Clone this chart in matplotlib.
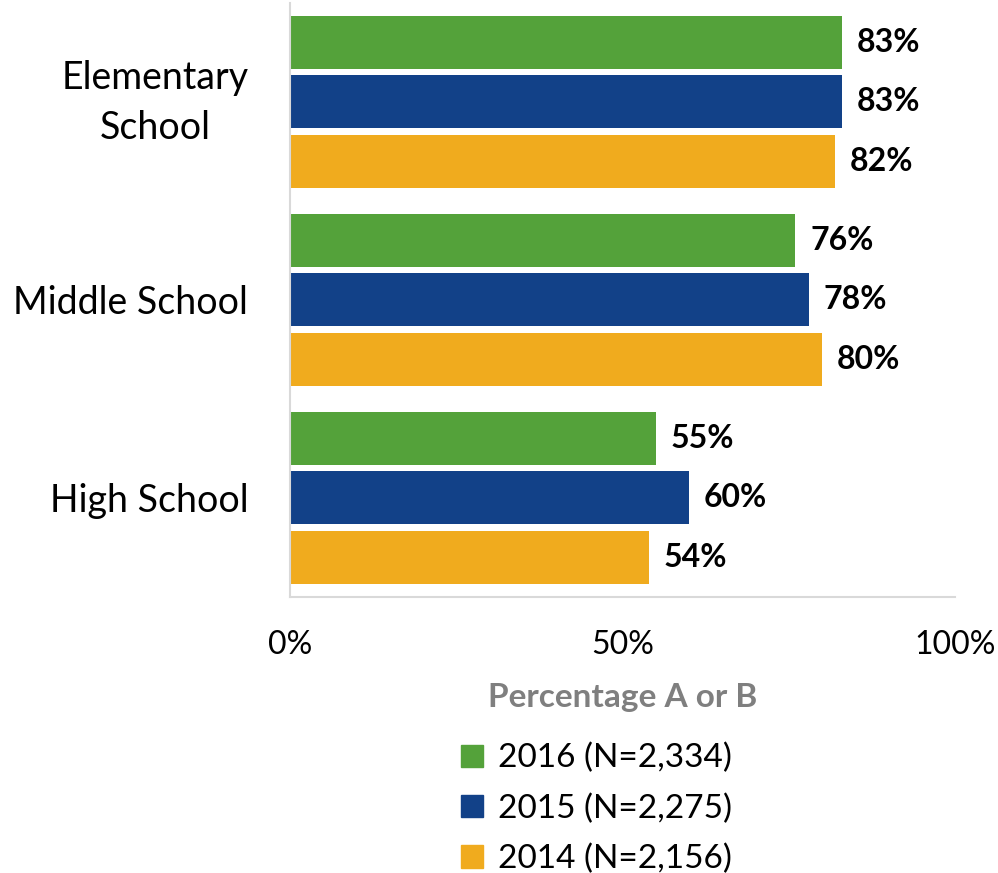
import numpy as np
import matplotlib.pyplot as plt
import matplotlib.transforms as mtransforms
from matplotlib.patches import Patch

plt.rcParams['font.family'] = ['Lato', 'DejaVu Sans']

categories = ['Elementary\nSchool', 'Middle School', 'High School']
series_names = ['2016 (N=2,334)', '2015 (N=2,275)', '2014 (N=2,156)']
values_2016 = [83, 76, 55]
values_2015 = [83, 78, 60]
values_2014 = [82, 80, 54]
colors = ['#54A23A', '#124188', '#F0AB1E']

series = [values_2016, values_2015, values_2014]

fig = plt.figure(figsize=(9.98, 8.73), dpi=100)
ax = fig.add_axes([0.2906, 0.3162, 0.6663, 0.6804])

y = np.arange(len(categories))
pitch = 0.299
height = 0.268
for i, (vals, c) in enumerate(zip(series, colors)):
    pos = y + (i - 1) * pitch
    ax.barh(pos, vals, height=height, color=c)
    for p, v in zip(pos, vals):
        ax.text(v + 2.2, p, f'{v}%', va='center', ha='left',
                fontsize=23, fontweight='bold', color='black')

ax.set_xlim(0, 100)
ax.set_ylim(2.5, -0.5)
ax.set_yticks(y)
ax.set_yticklabels(categories, fontsize=27, multialignment='center',
                   linespacing=1.45)
ax.set_xticks([0, 50, 100])
ax.set_xticklabels(['0%', '50%', '100%'], fontsize=23)
ax.tick_params(length=0)
ax.tick_params(axis='x', pad=24)
ax.tick_params(axis='y', pad=30)
# two-line label sits a bit low, nudge it up
lbl = ax.get_yticklabels()[0]
lbl.set_transform(lbl.get_transform() +
                  mtransforms.ScaledTranslation(0, 0.09, fig.dpi_scale_trans))
for s in ['top', 'right']:
    ax.spines[s].set_visible(False)
for s in ['left', 'bottom']:
    ax.spines[s].set_color('#D9D9D9')
    ax.spines[s].set_linewidth(1.5)

ax.set_xlabel('Percentage A or B', fontsize=24, fontweight='bold',
              color='#7F7F7F', labelpad=16)

handles = [Patch(color=c, label=n) for c, n in zip(colors, series_names)]
fig.legend(handles=handles, loc='upper left', bbox_to_anchor=(0.462, 0.149),
           frameon=False, fontsize=24, handlelength=0.65, handleheight=0.65,
           handletextpad=0.45, labelspacing=0.6, borderaxespad=0,
           borderpad=0)

fig.savefig('out.png', dpi=100)
